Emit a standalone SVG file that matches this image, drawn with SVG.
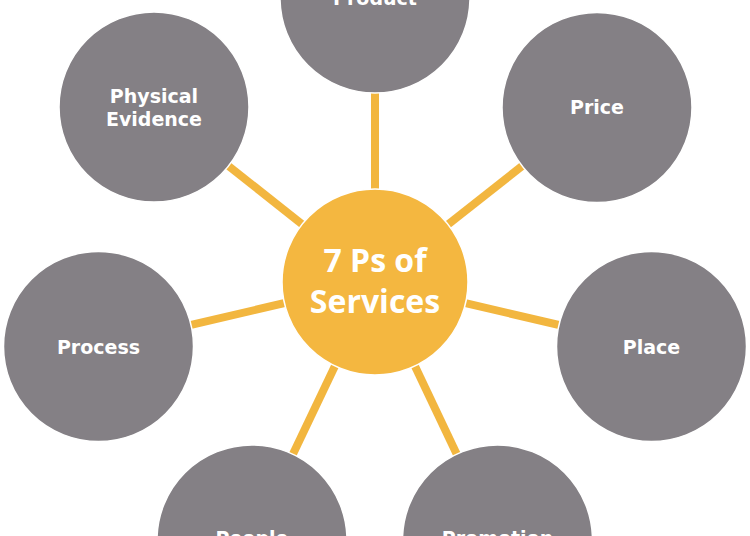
<svg xmlns="http://www.w3.org/2000/svg" width="750" height="536" viewBox="0 0 750 536">
<style>
.conn{stroke:#F2B63F;stroke-width:8;stroke-linecap:butt}
.outer{fill:#848085;stroke:#ffffff;stroke-width:1.5}
.hub{fill:#F4B740;stroke:#ffffff;stroke-width:1.5}
.lbl{font-family:"DejaVu Sans",Verdana,sans-serif;font-weight:bold;font-size:19px;fill:#ffffff;text-anchor:middle}
.hubl{font-family:"Open Sans",Arial,sans-serif;font-weight:bold;font-size:32px;fill:#ffffff;text-anchor:middle}
</style>
<rect width="750" height="536" fill="#ffffff"/>
<g id="connectors">
<line class="conn" x1="375" y1="282" x2="375" y2="-2"/>
<line class="conn" x1="375" y1="282" x2="597" y2="107"/>
<line class="conn" x1="375" y1="282" x2="651.5" y2="346.5"/>
<line class="conn" x1="375" y1="282" x2="497.5" y2="540"/>
<line class="conn" x1="375" y1="282" x2="252" y2="540"/>
<line class="conn" x1="375" y1="282" x2="98.5" y2="346.5"/>
<line class="conn" x1="375" y1="282" x2="154" y2="107"/>
</g>
<g id="hub">
<circle class="hub" cx="375" cy="282" r="93"/>
<text class="hubl" x="375" y="272">7 Ps of</text>
<text class="hubl" x="375" y="313">Services</text>
</g>
<g id="product">
<circle class="outer" cx="375" cy="-2" r="95"/>
<text class="lbl" x="375" y="5">Product</text>
</g>
<g id="price">
<circle class="outer" cx="597" cy="107.5" r="95"/>
<text class="lbl" x="597" y="114">Price</text>
</g>
<g id="place">
<circle class="outer" cx="651.5" cy="346.5" r="95"/>
<text class="lbl" x="651.5" y="354">Place</text>
</g>
<g id="promotion">
<circle class="outer" cx="497.5" cy="540" r="95"/>
<text class="lbl" x="497.5" y="545">Promotion</text>
</g>
<g id="people">
<circle class="outer" cx="252" cy="540" r="95"/>
<text class="lbl" x="252" y="545">People</text>
</g>
<g id="process">
<circle class="outer" cx="98.5" cy="346.5" r="95"/>
<text class="lbl" x="98.5" y="354">Process</text>
</g>
<g id="physical-evidence">
<circle class="outer" cx="154" cy="107" r="95"/>
<text class="lbl" x="154" y="103">Physical</text>
<text class="lbl" x="154" y="126">Evidence</text>
</g>
</svg>
